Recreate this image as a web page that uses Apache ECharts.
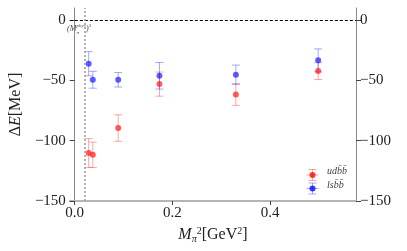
<!DOCTYPE html>
<html><head><meta charset="utf-8">
<script src="https://cdn.jsdelivr.net/npm/echarts@6/dist/echarts.min.js"></script>
<style>html,body{margin:0;padding:0;background:#fff}#c{width:407px;height:251px}</style>
</head><body><div id="c"></div>
<script>
// ---- data ----
const mpi2 = [0.0285, 0.037, 0.089, 0.1735, 0.330, 0.4985];
const udbbE = [-110.3, -111.7, -89.5, -53.1, -61.7, -42.3];
const udbbErr = [12, 10.5, 11, 10, 9, 7];
const lsbbE = [-36.2, -49.5, -49.5, -46.2, -45.3, -33.4];
const lsbbErr = [10, 7, 6, 11, 8, 9.5];
const xTicks = [0.0, 0.2, 0.4];
const yTicks = [-150, -100, -50, 0];
const mpiPhys2 = 0.0195;
const seriesNames = ['udbb', 'lsbb'];

const FONT = '"Liberation Serif","DejaVu Serif",serif';
const txt = '#222';
const fmtY = v => (v < 0 ? '\u2212' + Math.abs(v) : String(v));

function errData(xs, ys, es) { return xs.map((x, i) => [x, ys[i] - es[i], ys[i] + es[i]]); }
function ptData(xs, ys) { return xs.map((x, i) => [x, ys[i]]); }
function errRender(color) {
  return function (params, api) {
    const x = api.value(0);
    const lo = api.coord([x, api.value(1)]);
    const hi = api.coord([x, api.value(2)]);
    const cw = 4;
    const st = { stroke: color, lineWidth: 1 };
    return { type: 'group', children: [
      { type: 'line', shape: { x1: lo[0], y1: lo[1], x2: hi[0], y2: hi[1] }, style: st },
      { type: 'line', shape: { x1: lo[0] - cw, y1: lo[1], x2: lo[0] + cw, y2: lo[1] }, style: st },
      { type: 'line', shape: { x1: hi[0] - cw, y1: hi[1], x2: hi[0] + cw, y2: hi[1] }, style: st }
    ]};
  };
}
const redBar = 'rgba(255,60,60,0.45)', redPt = 'rgba(255,20,20,0.85)';
const bluBar = 'rgba(60,60,255,0.45)', bluPt = 'rgba(20,20,255,0.85)';

const yAxisCommon = {
  type: 'value', min: -150, max: 10,
  splitLine: { show: false },
  axisLine: { show: true, lineStyle: { color: '#888', width: 1 } },
  axisTick: { show: true, inside: false, length: 5, lineStyle: { color: '#444' }, customValues: yTicks },
  axisLabel: { customValues: yTicks, formatter: fmtY, color: txt, fontFamily: FONT, fontSize: 15, margin: 4 }
};

const chart = echarts.init(document.getElementById('c'), null, { renderer: 'canvas' });
chart.setOption({
  animation: false,
  backgroundColor: '#fff',
  grid: { left: 68, right: 51, top: 8, bottom: 50, containLabel: false },
  xAxis: {
    type: 'value', min: -0.01, max: 0.576,
    splitLine: { show: false },
    axisLine: { onZero: false, lineStyle: { color: '#b5b5b5', width: 2 } },
    axisTick: { length: 4, lineStyle: { color: '#444' }, customValues: xTicks },
    axisLabel: { customValues: xTicks, formatter: v => v.toFixed(1), color: txt, fontFamily: FONT, fontSize: 15, margin: 5 },
    name: '{i|M}{sub|\u03c0}{sup|2}{n|[GeV}{sup|2}{n|]}',
    nameLocation: 'middle', nameGap: 23,
    nameTextStyle: { rich: {
      i: { fontFamily: FONT, fontStyle: 'italic', fontSize: 16, color: txt },
      n: { fontFamily: FONT, fontSize: 16, color: txt },
      sup: { fontFamily: FONT, fontSize: 10, color: txt, verticalAlign: 'top', lineHeight: 18 },
      sub: { fontFamily: FONT, fontStyle: 'italic', fontSize: 10, color: txt, verticalAlign: 'bottom', lineHeight: 18 }
    } }
  },
  yAxis: [
    Object.assign({}, yAxisCommon, {
      position: 'left',
      name: '{n|\u0394}{i|E}{n|[MeV]}', nameLocation: 'middle', nameGap: 44, nameRotate: 90,
      nameTextStyle: { rich: {
        i: { fontFamily: FONT, fontStyle: 'italic', fontSize: 16, color: txt },
        n: { fontFamily: FONT, fontSize: 16, color: txt }
      } }
    }),
    Object.assign({}, yAxisCommon, { position: 'right' })
  ],
  series: [
    { type: 'line', data: [], silent: true,
      markLine: { silent: true, symbol: 'none', label: { show: false }, animation: false,
        data: [
          { yAxis: 0, lineStyle: { color: '#000', type: [3, 2], width: 1 } },
          { xAxis: mpiPhys2, lineStyle: { color: '#999', type: [2, 2], width: 1.5 } }
        ] } },
    { name: seriesNames[0] + ' err', type: 'custom', renderItem: errRender(redBar), data: errData(mpi2, udbbE, udbbErr), z: 3 },
    { name: seriesNames[1] + ' err', type: 'custom', renderItem: errRender(bluBar), data: errData(mpi2, lsbbE, lsbbErr), z: 3 },
    { name: seriesNames[0], type: 'scatter', symbol: 'circle', symbolSize: 6, itemStyle: { color: redPt }, data: ptData(mpi2, udbbE), z: 4 },
    { name: seriesNames[1], type: 'scatter', symbol: 'circle', symbolSize: 6, itemStyle: { color: bluPt }, data: ptData(mpi2, lsbbE), z: 4 }
  ],
  graphic: [
    // (M_pi^phys)^2 label
    { type: 'text', left: 67, top: 25, style: { text: '(M', fontFamily: FONT, fontStyle: 'italic', fontSize: 8, fill: '#444' } },
    { type: 'text', left: 76.5, top: 23, style: { text: 'phys', fontFamily: FONT, fontStyle: 'italic', fontSize: 5, fill: '#444' } },
    { type: 'text', left: 76.5, top: 30, style: { text: '\u03c0', fontFamily: FONT, fontStyle: 'italic', fontSize: 5, fill: '#444' } },
    { type: 'text', left: 86, top: 25, style: { text: ')', fontFamily: FONT, fontStyle: 'italic', fontSize: 8, fill: '#444' } },
    { type: 'text', left: 89, top: 23.5, style: { text: '2', fontFamily: FONT, fontSize: 5, fill: '#444' } },
    // legend
    { type: 'group', left: 304, top: 167, children: [
      { type: 'line', shape: { x1: 6, y1: 0, x2: 6, y2: 11 }, style: { stroke: redBar } },
      { type: 'line', shape: { x1: 2, y1: 0, x2: 10, y2: 0 }, style: { stroke: redBar } },
      { type: 'line', shape: { x1: 2, y1: 11, x2: 10, y2: 11 }, style: { stroke: redBar } },
      { type: 'line', shape: { x1: 0, y1: 5.5, x2: 12, y2: 5.5 }, style: { stroke: redBar } },
      { type: 'circle', shape: { cx: 6, cy: 5.5, r: 3 }, style: { fill: redPt } },
      { type: 'line', shape: { x1: 6, y1: 13.5, x2: 6, y2: 24.5 }, style: { stroke: bluBar } },
      { type: 'line', shape: { x1: 2, y1: 13.5, x2: 10, y2: 13.5 }, style: { stroke: bluBar } },
      { type: 'line', shape: { x1: 2, y1: 24.5, x2: 10, y2: 24.5 }, style: { stroke: bluBar } },
      { type: 'line', shape: { x1: 0, y1: 19, x2: 12, y2: 19 }, style: { stroke: bluBar } },
      { type: 'circle', shape: { cx: 6, cy: 19, r: 3 }, style: { fill: bluPt } }
    ] },
    { type: 'text', left: 327, top: 166, style: { text: 'ud\u0062\u0304\u0062\u0304', fontFamily: FONT, fontStyle: 'italic', fontSize: 10, fill: '#444' } },
    { type: 'text', left: 327, top: 180, style: { text: 'ls\u0062\u0304\u0062\u0304', fontFamily: FONT, fontStyle: 'italic', fontSize: 10, fill: '#444' } }
  ]
});
</script></body></html>
